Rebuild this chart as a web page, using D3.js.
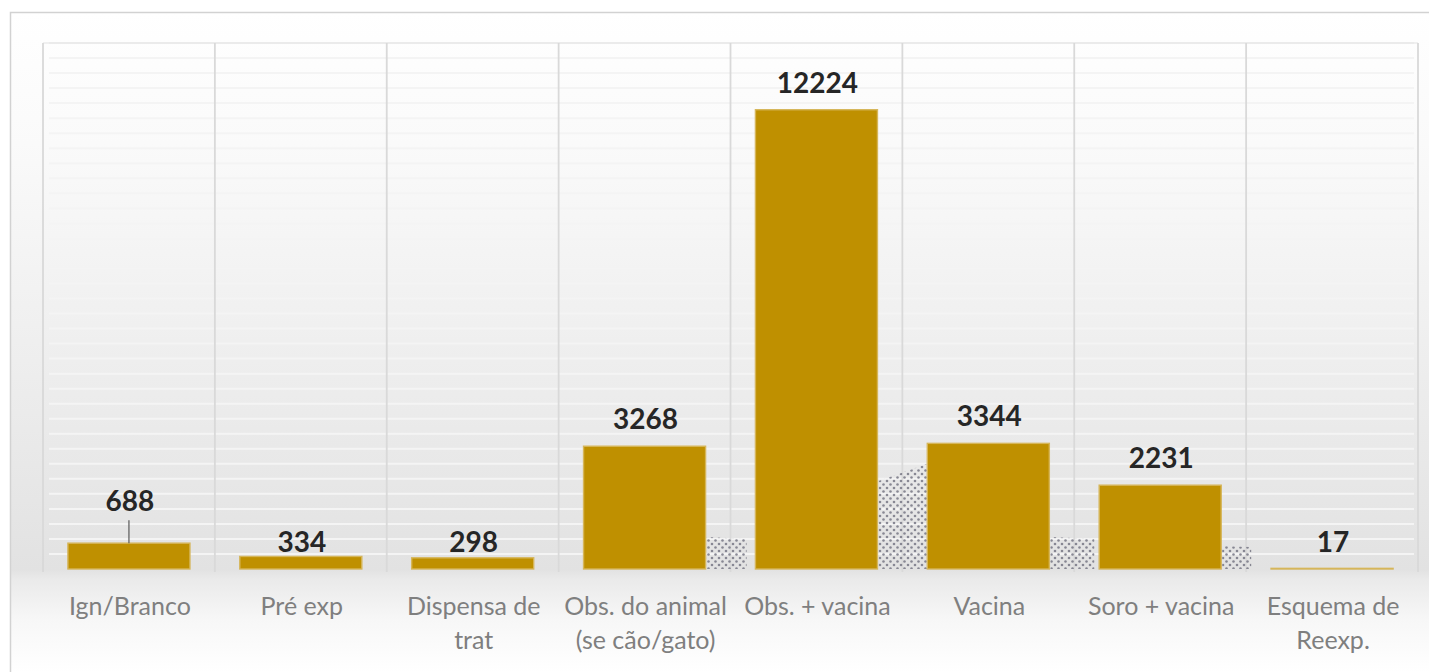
<!DOCTYPE html>
<html>
<head>
<meta charset="utf-8">
<script src="https://cdn.jsdelivr.net/npm/d3@7"></script>
<style>
  html, body { margin: 0; padding: 0; background: #ffffff; }
  svg { display: block; }
</style>
</head>
<body>
<svg id="chart" width="1429" height="672"></svg>
<script>
// Atendimentos por tipo de conduta
const categories = [
  ["Ign/Branco"],
  ["Pré exp"],
  ["Dispensa de", "trat"],
  ["Obs. do animal", "(se cão/gato)"],
  ["Obs. + vacina"],
  ["Vacina"],
  ["Soro + vacina"],
  ["Esquema de", "Reexp."]
];
const values = [688, 334, 298, 3268, 12224, 3344, 2231, 17];
const yMax = 14000;
const gridStep = 400;

const W = 1429, H = 672;
const margin = { top: 43, right: 11, bottom: 103, left: 43 };
const svg = d3.select("#chart");
const defs = svg.append("defs");

// background shading: light at the top, grey towards the baseline, fading out under the labels
const bg = defs.append("linearGradient")
  .attr("id", "bgGrad").attr("gradientUnits", "userSpaceOnUse")
  .attr("x1", 0).attr("y1", 12).attr("x2", 0).attr("y2", 672);
[[0, "#ffffff"], [0.2, "#fafafa"], [0.5, "#efefef"], [0.845, "#e2e2e2"],
 [0.86, "#eaeaea"], [0.92, "#f7f7f7"], [1, "#ffffff"]]
  .forEach(([o, c]) => bg.append("stop").attr("offset", o).attr("stop-color", c));

// dotted texture used for the small shadows beside some bars
const pat = defs.append("pattern")
  .attr("id", "dots").attr("patternUnits", "userSpaceOnUse")
  .attr("width", 7).attr("height", 7);
pat.append("circle").attr("cx", 1.5).attr("cy", 1.5).attr("r", 1.3).attr("fill", "#7d7d8a");
pat.append("circle").attr("cx", 5).attr("cy", 5).attr("r", 1.3).attr("fill", "#7d7d8a");

svg.append("rect")
  .attr("x", 10.5).attr("y", 12.5).attr("width", W).attr("height", H)
  .attr("fill", "url(#bgGrad)").attr("stroke", "#d2d2d2").attr("stroke-width", 1.5);

const x = d3.scaleBand()
  .domain(d3.range(categories.length))
  .range([margin.left, W - margin.right])
  .paddingInner(0.29).paddingOuter(0.145);

const y = d3.scaleLinear()
  .domain([0, yMax])
  .range([H - margin.bottom, margin.top]);

const g = svg.append("g");

// horizontal gridlines
g.append("g").selectAll("line")
  .data(d3.range(gridStep, yMax + 1, gridStep))
  .join("line")
  .attr("x1", margin.left + 6).attr("x2", W - margin.right - 4)
  .attr("y1", d => y(d)).attr("y2", d => y(d))
  .attr("stroke", "#f4f4f4").attr("stroke-width", 2);

g.append("line")
  .attr("x1", margin.left).attr("x2", W - margin.right)
  .attr("y1", y(yMax)).attr("y2", y(yMax))
  .attr("stroke", "#e2e2e2").attr("stroke-width", 1.2);

// vertical separators between categories
const step = x.step();
const bounds = d3.range(categories.length + 1).map(i => margin.left + i * step);
g.append("g").selectAll("line")
  .data(bounds)
  .join("line")
  .attr("x1", d => d).attr("x2", d => d)
  .attr("y1", y(yMax)).attr("y2", y(0) + 3)
  .attr("stroke", "#d9d9d9").attr("stroke-width", 1.8);

// dotted shadow wedges to the right of the mid-sized bars
const shadowAfter = [
  { i: 3, w: 40, hl: 32, hr: 30 },
  { i: 4, w: 51, hl: 88, hr: 106 },
  { i: 5, w: 44, hl: 32, hr: 30 },
  { i: 6, w: 29, hl: 23, hr: 22 }
];
g.append("g").attr("opacity", 0.9).selectAll("path")
  .data(shadowAfter)
  .join("path")
  .attr("d", s => {
    const x0 = x(s.i) + x.bandwidth() + 1, x1 = x0 + s.w, yb = y(0);
    return `M${x0},${yb}L${x0},${yb - s.hl}L${x1},${yb - s.hr}L${x1},${yb}Z`;
  })
  .attr("fill", "url(#dots)");

// bars
g.append("g").selectAll("rect")
  .data(values)
  .join("rect")
  .attr("x", (d, i) => x(i))
  .attr("width", x.bandwidth())
  .attr("y", d => y(d))
  .attr("height", d => y(0) - y(d))
  .attr("fill", "#BF9000")
  .attr("stroke", "#d6b65a").attr("stroke-width", 1.4);

// value labels
const smallBar = 20;          // px: short bars get their label at a fixed height
const leaderLift = 32;        // the first label sits higher with a leader line
const labelY = (d, i) => {
  if (i === 0) return y(d) - leaderLift;
  return (y(0) - y(d) < smallBar) ? y(0) - 17 : y(d) - 17;
};
g.append("line")
  .attr("x1", x(0) + x.bandwidth() / 2).attr("x2", x(0) + x.bandwidth() / 2)
  .attr("y1", labelY(values[0], 0) + 9).attr("y2", y(values[0]))
  .attr("stroke", "#595959").attr("stroke-width", 1.2);

g.append("g").selectAll("text")
  .data(values)
  .join("text")
  .attr("x", (d, i) => x(i) + x.bandwidth() / 2 + 1)
  .attr("y", labelY)
  .attr("text-anchor", "middle")
  .attr("font-family", "Lato, 'Open Sans', sans-serif")
  .attr("font-weight", 700)
  .attr("font-size", 28)
  .attr("fill", "#262626")
  .text(d => d);

// category labels
const cat = g.append("g").selectAll("text")
  .data(categories)
  .join("text")
  .attr("text-anchor", "middle")
  .attr("font-family", "Lato, 'Open Sans', sans-serif")
  .attr("font-size", 25)
  .attr("fill", "#7f7f7f");
cat.each(function (lines, i) {
  const t = d3.select(this);
  lines.forEach((ln, k) => {
    t.append("tspan")
      .attr("x", x(i) + x.bandwidth() / 2 + 1)
      .attr("y", y(0) + 46 + k * 34)
      .text(ln);
  });
});
</script>
</body>
</html>
